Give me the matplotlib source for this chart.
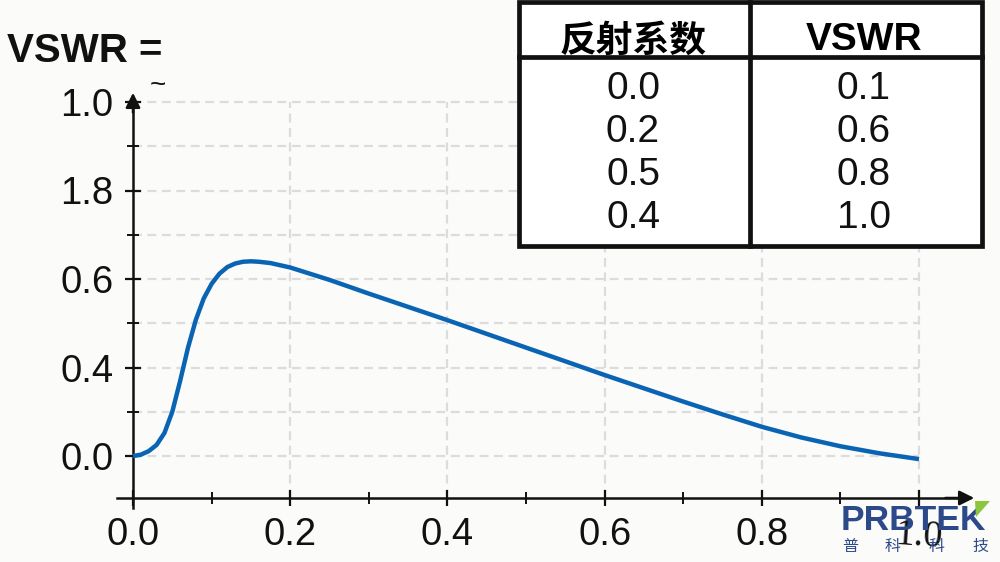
import matplotlib
matplotlib.use("Agg")
from matplotlib import pyplot as plt
from matplotlib.patches import Rectangle, Polygon
from matplotlib.lines import Line2D

plt.rcParams['font.family'] = ['Liberation Sans', 'Noto Sans CJK SC', 'DejaVu Sans']

# curve
gamma = [0.000, 0.010, 0.020, 0.030, 0.040, 0.050, 0.060, 0.070, 0.080, 0.090,
         0.100, 0.110, 0.120, 0.130, 0.140, 0.150, 0.160, 0.175, 0.200, 0.250,
         0.300, 0.350, 0.400, 0.450, 0.500, 0.550, 0.600, 0.650, 0.700, 0.750,
         0.800, 0.850, 0.900, 0.950, 1.000]
vswr = [0.000, 0.003, 0.011, 0.025, 0.052, 0.100, 0.170, 0.245, 0.308, 0.356,
        0.389, 0.412, 0.427, 0.435, 0.439, 0.440, 0.439, 0.436, 0.426, 0.398,
        0.367, 0.337, 0.307, 0.276, 0.245, 0.214, 0.183, 0.153, 0.123, 0.094,
        0.066, 0.042, 0.022, 0.006, -0.007]

x_ticks = [0.0, 0.2, 0.4, 0.6, 0.8, 1.0]
x_labels = ["0.0", "0.2", "0.4", "0.6", "0.8", "1.0"]
x_minor = [0.1, 0.3, 0.5, 0.7, 0.9]
y_ticks = [0.0, 0.2, 0.4, 0.6, 0.8]
y_labels = ["0.0", "0.4", "0.6", "1.8", "1.0"]
y_minor = [0.1, 0.3, 0.5, 0.7]

tbl_head = ["反射系数", "VSWR"]
tbl_gamma = ["0.0", "0.2", "0.5", "0.4"]
tbl_vswr = ["0.1", "0.6", "0.8", "1.0"]

logo_cn = ["普", "科", "科", "技"]

W, H = 1000, 562
def fx(px): return px / W
def fy(py): return 1 - py / H

# pixel -> data mapping of the plot
X0, XS = 133, 786.0
Y0, YS = 456, 442.5

fig = plt.figure(figsize=(10, 5.62), dpi=100, facecolor='#fbfbf9')
ax = fig.add_axes([0, 0, 1, 1])
ax.set_facecolor('none')
ax.set_xlim((0 - X0) / XS, (W - X0) / XS)
ax.set_ylim((Y0 - H) / YS, (Y0 - 0) / YS)

y_axis = (Y0 - 498) / YS
y_bot = (Y0 - 508) / YS
x_left = (117 - X0) / XS

# grid
grid_kw = dict(color='#dcdcdc', lw=1.6, linestyles=(0, (4, 2.5)), zorder=1)
ax.hlines(sorted(y_ticks + y_minor), 0, 1.0, **grid_kw)
ax.vlines(x_ticks[1:], y_axis, 0.8, **grid_kw)

# curve
ax.plot(gamma, vswr, color='#0a64b4', lw=3.2, solid_capstyle='butt',
        solid_joinstyle='round', zorder=3)

# axes
for s in ['top', 'right']:
    ax.spines[s].set_visible(False)
ax.spines['left'].set_position(('data', 0))
ax.spines['bottom'].set_position(('data', y_axis))
ax.spines['left'].set_bounds(y_bot, 0.80)
ax.spines['bottom'].set_bounds(x_left, 1.05)
for s in ['left', 'bottom']:
    ax.spines[s].set_linewidth(1.8)
    ax.spines[s].set_color('#111111')

ax.annotate('', xy=(0, (Y0 - 90) / YS), xytext=(0, 0.77),
            arrowprops=dict(arrowstyle='-|>', color='#111111', lw=1.8, mutation_scale=22))
ax.annotate('', xy=((977 - X0) / XS, y_axis), xytext=(1.03, y_axis),
            arrowprops=dict(arrowstyle='-|>', color='#111111', lw=1.8, mutation_scale=22))

ax.set_xticks(x_ticks)
ax.set_xticklabels(x_labels)
ax.set_xticks(x_minor, minor=True)
ax.set_yticks(y_ticks)
ax.set_yticklabels(y_labels)
ax.set_yticks(y_minor, minor=True)
ax.tick_params(which='major', direction='inout', length=12, width=1.6, color='#111111',
               labelsize=27.5, labelcolor='#111111')
ax.tick_params(which='minor', direction='inout', length=8, width=1.4, color='#111111')
ax.tick_params(axis='y', which='major', pad=8)
ax.tick_params(axis='x', which='major', pad=8)
lab = ax.get_xticklabels()[-1]
lab.set_fontfamily('Liberation Serif')
lab.set_rotation(-4)

# title
fig.text(fx(7), fy(62), "VSWR =", fontsize=29, fontweight='bold', color='#111111',
         va='baseline', ha='left')
fig.text(fx(158), fy(86), "~", fontsize=20, color='#111111', ha='center', va='center')

# table
L, R, T, B, MID, HL = 519, 982, 2, 246, 750, 57
fig.patches.append(Rectangle((fx(L), fy(B)), fx(R) - fx(L), fy(T) - fy(B),
                             transform=fig.transFigure, facecolor='white',
                             edgecolor='#111111', lw=3.4, zorder=5))
fig.lines.append(Line2D([fx(MID), fx(MID)], [fy(T), fy(B)], transform=fig.transFigure,
                        color='#111111', lw=3.4, zorder=6))
fig.lines.append(Line2D([fx(L), fx(R)], [fy(HL), fy(HL)], transform=fig.transFigure,
                        color='#111111', lw=3.4, zorder=6))
cols = [633, 864]
fig.text(fx(cols[0]), fy(41), tbl_head[0], fontsize=26.5, fontweight='bold',
         family=['Noto Sans CJK SC'], ha='center', va='center', zorder=7)
fig.text(fx(cols[1]), fy(40), tbl_head[1], fontsize=28, fontweight='bold',
         ha='center', va='center', zorder=7)
rows = [89, 132, 175, 218]
for i in range(4):
    fig.text(fx(cols[0]), fy(rows[i]), tbl_gamma[i], fontsize=28, ha='center',
             va='center', color='#111111', zorder=7)
    fig.text(fx(cols[1]), fy(rows[i]), tbl_vswr[i], fontsize=28, ha='center',
             va='center', color='#111111', zorder=7)

# logo
blue = '#2c4a8a'
fig.text(fx(841), fy(530), "PRBTEK", fontsize=25.5, fontweight='bold', color=blue,
         ha='left', va='baseline', zorder=8)
fig.patches.append(Polygon([(fx(975), fy(501)), (fx(990), fy(501)), (fx(976), fy(517))],
                           closed=True, transform=fig.transFigure, facecolor='#8cc63f',
                           edgecolor='none', zorder=9))
cx = [850, 893, 937, 980]
for i in range(4):
    fig.text(fx(cx[i]), fy(546), logo_cn[i], fontsize=11.5, color=blue,
             family=['Noto Sans CJK SC'], ha='center', va='center', zorder=8)

fig.savefig("out.png", dpi=100, facecolor=fig.get_facecolor())
